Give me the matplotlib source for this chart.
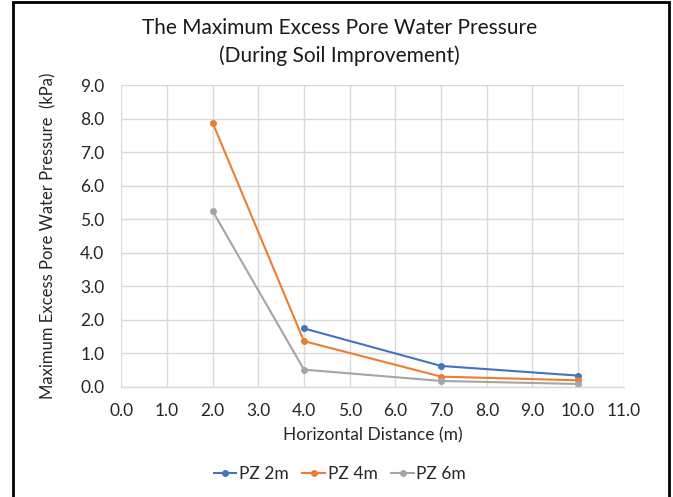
import matplotlib
matplotlib.use("Agg")
import matplotlib.pyplot as plt
import matplotlib.patches as patches
from matplotlib.ticker import FormatStrFormatter

plt.rcParams['font.family'] = ['Lato', 'DejaVu Sans']

# data
dist_2m = [4, 7, 10]
pz_2m = [1.74, 0.62, 0.33]
dist_4m = [2, 4, 7, 10]
pz_4m = [7.89, 1.36, 0.30, 0.19]
dist_6m = [2, 4, 7, 10]
pz_6m = [5.25, 0.51, 0.17, 0.08]

series = [
    ("PZ 2m", dist_2m, pz_2m, "#4472C4"),
    ("PZ 4m", dist_4m, pz_4m, "#ED7D31"),
    ("PZ 6m", dist_6m, pz_6m, "#A5A5A5"),
]

fig = plt.figure(figsize=(6.73, 4.97), dpi=100)
ax = fig.add_axes([0.180, 0.222, 0.747, 0.606])

for name, x, y, c in series:
    ax.plot(x, y, color=c, linewidth=1.5, marker='o', markersize=4, label=name)

ax.set_xlim(0, 11)
ax.set_ylim(0, 9)
ax.set_xticks(range(0, 12))
ax.set_yticks(range(0, 10))
ax.xaxis.set_major_formatter(FormatStrFormatter('%.1f'))
ax.yaxis.set_major_formatter(FormatStrFormatter('%.1f'))
ax.grid(True, color='#d9d9d9', linewidth=1)
ax.set_axisbelow(True)
for s in ['top', 'right', 'left']:
    ax.spines[s].set_visible(False)
ax.spines['bottom'].set_color('#d9d9d9')
ax.spines['bottom'].set_linewidth(1)
ax.tick_params(length=0, labelsize=12.5, colors='#262626')
ax.tick_params(axis='y', pad=12)
ax.tick_params(axis='x', pad=12)

ax.set_xlabel("Horizontal Distance (m)", fontsize=12.5, color='#262626', labelpad=6)
ax.set_ylabel("Maximum Excess Pore Water Pressure  (kPa)", fontsize=12,
              color='#262626', labelpad=17)

fig.text(0.505, 0.915, "The Maximum Excess Pore Water Pressure\n(During Soil Improvement)",
         ha='center', va='center', fontsize=15, color='#1a1a1a', linespacing=1.45)

fig.legend(loc='center', bbox_to_anchor=(0.505, 0.046), ncol=3, frameon=False,
           fontsize=12.5, handlelength=1.3, handletextpad=0.15, columnspacing=0.8,
           labelcolor='#262626')

fig.patches.append(patches.Rectangle((12.5 / 673, -0.05), (669 - 12.5) / 673, 1.05 - 1.5 / 497,
                                     transform=fig.transFigure, fill=False,
                                     edgecolor='black', linewidth=2))

fig.savefig("out.png", dpi=100)
